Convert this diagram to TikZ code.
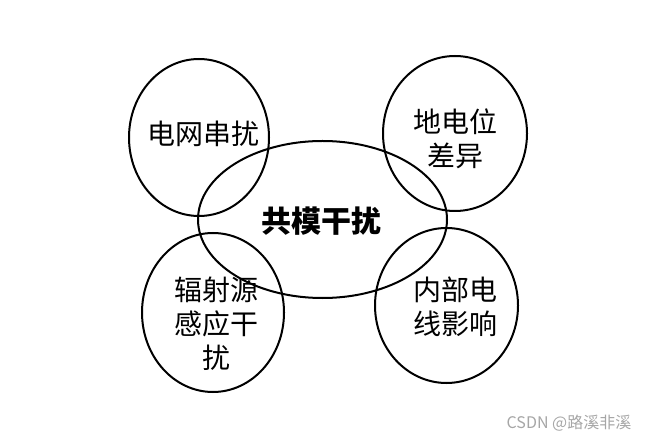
\documentclass[tikz,border=0pt]{standalone}
\usepackage{fontspec}
\setmainfont{Noto Sans CJK SC}
\usepackage{tikz}
\usetikzlibrary{shapes.geometric}

\begin{document}
\begin{tikzpicture}[x=1pt, y=-1pt,
  ring/.style={ellipse, draw=black, line width=2pt, inner sep=0pt},
  tag/.style={align=center, inner sep=0pt, font=\fontsize{28}{34}\selectfont}
]
\useasboundingbox (0,0) rectangle (652,443);
% circles
\node[ring, minimum width=249pt, minimum height=157pt] (cm) at (322.5,219.5) {};
\node[ring, minimum width=140pt, minimum height=157pt] (grid) at (199,137.5) {};
\node[ring, minimum width=144pt, minimum height=155pt] (ground) at (455,133.5) {};
\node[ring, minimum width=142pt, minimum height=159pt] (radiate) at (213,312.5) {};
\node[ring, minimum width=143pt, minimum height=155pt] (wire) at (446.5,305.5) {};
% texts
\node[tag, font=\fontsize{30}{34}\selectfont\bfseries] (cmtext) at (321,221) {共模干扰};
\node[tag] (gridtext) at (203,134) {电网串扰};
\node[tag] (groundtext) at (455,139) {地电位\\差异};
\node[tag] (radiatetext) at (216,324) {辐射源\\感应干\\扰};
\node[tag] (wiretext) at (455,307) {内部电\\线影响};
\node[inner sep=0pt, text=gray!70, font=\fontsize{16}{18}\selectfont] (wm) at (569,423) {CSDN @路溪非溪};
\end{tikzpicture}
\end{document}
